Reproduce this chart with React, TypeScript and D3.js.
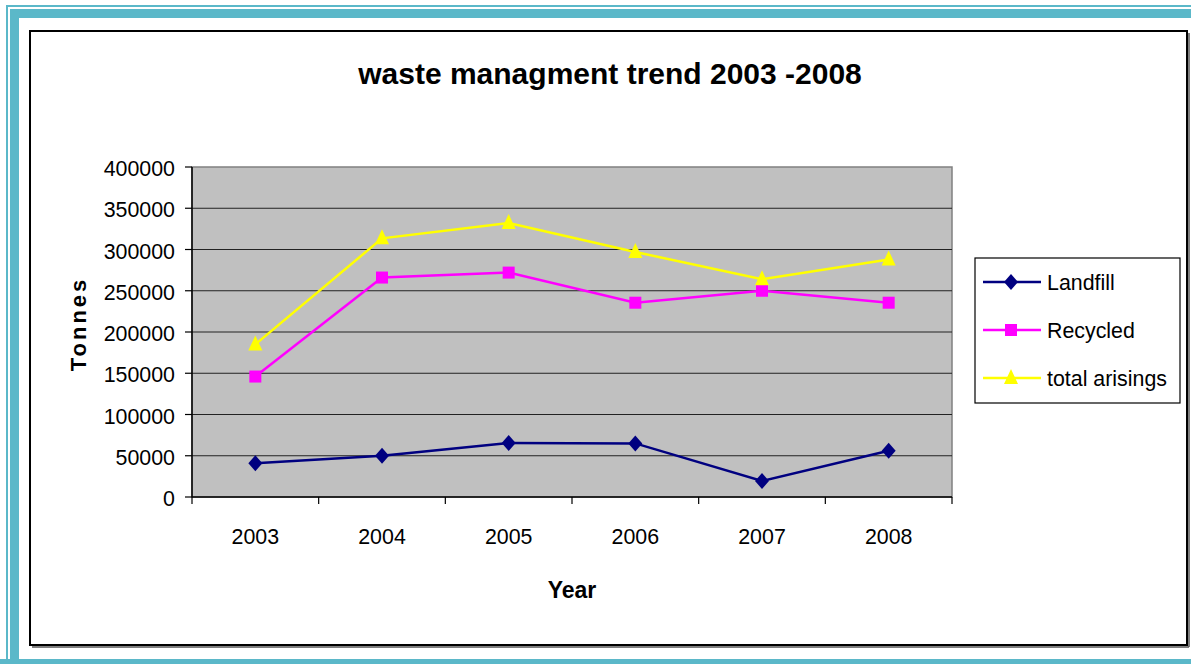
import * as d3 from 'd3';

const years = ['2003', '2004', '2005', '2006', '2007', '2008'];
const landfill = [41000, 50000, 65500, 65000, 19500, 56000];
const recycled = [146000, 266000, 272000, 235500, 250000, 235500];
const totalArisings = [185000, 313500, 332000, 297000, 264000, 288000];
const yTicks = [0, 50000, 100000, 150000, 200000, 250000, 300000, 350000, 400000];

const W = 1191;
const H = 664;
const font = '"Liberation Sans", Arial, sans-serif';

const plot = { left: 192, right: 952, top: 167, bottom: 497 };

const series = [
  { name: 'Landfill', values: landfill, color: '#000080', marker: 'diamond' },
  { name: 'Recycled', values: recycled, color: '#ff00ff', marker: 'square' },
  { name: 'total arisings', values: totalArisings, color: '#ffff00', marker: 'triangle' },
];

const Marker = ({ type, x, y, color }: { type: string; x: number; y: number; color: string }) => {
  if (type === 'diamond') {
    return <path d={`M${x},${y - 8}L${x + 7},${y}L${x},${y + 8}L${x - 7},${y}Z`} fill={color} />;
  }
  if (type === 'square') {
    return <rect x={x - 6} y={y - 6} width={12} height={12} fill={color} />;
  }
  return <path d={`M${x},${y - 9}L${x + 7},${y + 6}L${x - 7},${y + 6}Z`} fill={color} />;
};

// slightly condensed text like the original renderer
const Label = ({ x, y, anchor = 'start', size = 23, children }: any) => (
  <text transform={`translate(${x},${y}) scale(0.93,1)`} textAnchor={anchor} fontFamily={font} fontSize={size}>
    {children}
  </text>
);

export default function App() {
  const x = d3.scaleBand().domain(years).range([plot.left, plot.right]);
  const y = d3.scaleLinear().domain([0, 400000]).range([plot.bottom, plot.top]);
  const cx = (yr: string) => (x(yr) as number) + x.bandwidth() / 2;

  const line = (vals: number[]) =>
    d3.line<number>().x((_, i) => cx(years[i])).y((v) => y(v))(vals) as string;

  return (
    <svg width={W} height={H} style={{ position: 'absolute', left: 0, top: 0, background: '#fff' }}>
      {/* outer teal border */}
      <rect x={7} y={6} width={W + 20} height={H} fill="none" stroke="#5bb8c9" strokeWidth={2} />
      <rect x={10} y={9} width={W + 20} height={650} fill="#5bb8c9" />
      <rect x={19} y={18} width={W + 20} height={641} fill="#fff" />
      <rect x={0} y={659} width={W} height={5} fill="#5bb8c9" />

      {/* chart frame */}
      <rect x={30} y={31} width={1157} height={614} fill="#fff" stroke="#000" strokeWidth={2} />
      <line x1={1189} y1={33} x2={1189} y2={647} stroke="#555" strokeWidth={1.5} />
      <line x1={32} y1={647} x2={1189} y2={647} stroke="#555" strokeWidth={1.5} />

      <text x={610} y={84} textAnchor="middle" fontFamily={font} fontWeight="bold" fontSize={30}>
        waste managment trend 2003 -2008
      </text>

      {/* plot area */}
      <rect x={plot.left} y={plot.top} width={plot.right - plot.left} height={plot.bottom - plot.top} fill="#c0c0c0" stroke="#808080" strokeWidth={1.5} />
      {yTicks.slice(1, -1).map((t) => (
        <line key={t} x1={plot.left} x2={plot.right} y1={y(t)} y2={y(t)} stroke="#222" strokeWidth={1.2} />
      ))}

      {/* y axis */}
      <line x1={plot.left} x2={plot.left} y1={plot.top} y2={plot.bottom} stroke="#000" strokeWidth={1.5} />
      {yTicks.map((t) => (
        <g key={t}>
          <line x1={plot.left - 7} x2={plot.left} y1={y(t)} y2={y(t)} stroke="#000" strokeWidth={1.2} />
          <Label x={plot.left - 17} y={y(t) + 9} anchor="end">
            {t}
          </Label>
        </g>
      ))}

      {/* x axis */}
      <line x1={plot.left} x2={plot.right} y1={plot.bottom} y2={plot.bottom} stroke="#000" strokeWidth={1.5} />
      {[...years.map((yr) => x(yr) as number), plot.right].map((v, i) => (
        <line key={i} x1={v} x2={v} y1={plot.bottom} y2={plot.bottom + 7} stroke="#000" strokeWidth={1.2} />
      ))}
      {years.map((yr) => (
        <Label key={yr} x={cx(yr)} y={544} anchor="middle">
          {yr}
        </Label>
      ))}

      <text x={572} y={598} textAnchor="middle" fontFamily={font} fontWeight="bold" fontSize={23}>
        Year
      </text>
      <text
        transform={`translate(86,${324}) rotate(-90)`}
        textAnchor="middle"
        fontFamily={font}
        fontWeight="bold"
        fontSize={22}
        letterSpacing={3}
      >
        Tonnes
      </text>

      {/* series */}
      {series.map((s) => (
        <g key={s.name}>
          <path d={line(s.values)} fill="none" stroke={s.color} strokeWidth={2.5} />
          {s.values.map((v, i) => (
            <Marker key={i} type={s.marker} x={cx(years[i])} y={y(v)} color={s.color} />
          ))}
        </g>
      ))}

      {/* legend */}
      <rect x={975} y={258} width={205} height={145} fill="#fff" stroke="#000" strokeWidth={1.2} />
      {series.map((s, i) => {
        const ly = 282 + i * 48;
        return (
          <g key={s.name}>
            <line x1={983} x2={1041} y1={ly} y2={ly} stroke={s.color} strokeWidth={2.5} />
            <Marker type={s.marker} x={1011} y={ly} color={s.color} />
            <Label x={1047} y={ly + 8}>
              {s.name}
            </Label>
          </g>
        );
      })}
    </svg>
  );
}
